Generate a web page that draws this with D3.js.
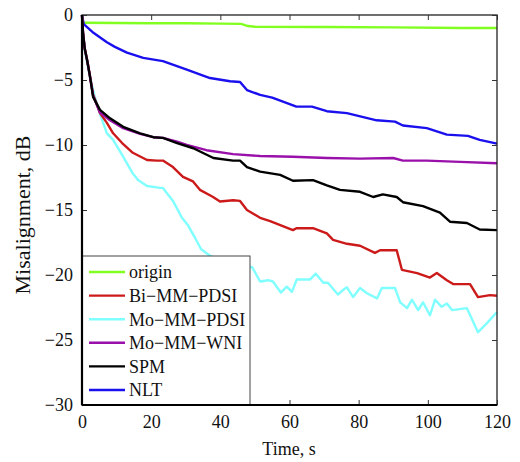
<!DOCTYPE html>
<html><head><meta charset="utf-8">
<script src="https://cdn.jsdelivr.net/npm/d3@7"></script>
<style>body{margin:0;background:#fff}svg{display:block}text{font-family:"Liberation Serif","Times New Roman",serif}</style>
</head><body><svg id="c" width="520" height="462"></svg>
<script>
const seriesNames = ["origin","Bi\u2212MM\u2212PDSI","Mo\u2212MM\u2212PDSI","Mo\u2212MM\u2212WNI","SPM","NLT"];
const seriesColors = ["#80ff20","#cc1a1a","#80ffff","#9a10aa","#000000","#1a10ee"];
const xTicks = [0,20,40,60,80,100,120];
const yTicks = [0,-5,-10,-15,-20,-25,-30];

const origin = [[0,-0.6],[10,-0.62],[20,-0.63],[30,-0.64],[40,-0.66],[46,-0.68],[48,-0.85],[50,-0.9],[70,-0.92],[90,-0.95],[110,-1.0],[120,-1.0]];
const biPDSI = [[0,0],[0.3,-1.4],[0.8,-2.6],[1.5,-3.5],[2.3,-4.7],[3.2,-6.1],[5.2,-7.55],[7.2,-8.3],[9,-9.1],[11.6,-9.85],[14.7,-10.6],[18.8,-11.15],[21.7,-11.2],[23.4,-11.2],[26.3,-11.7],[29.2,-12.45],[32.1,-12.8],[34.1,-13.45],[37.9,-14.0],[39.9,-14.35],[43.7,-14.25],[45.7,-14.3],[47.7,-15.0],[51.5,-15.6],[54.4,-15.85],[61,-16.55],[62,-16.4],[66.8,-16.4],[70.8,-16.8],[72.6,-17.3],[76.6,-17.6],[80.4,-17.75],[84.7,-18.3],[86.2,-18.1],[91,-18.1],[92.5,-19.6],[96.9,-19.85],[100.6,-20.2],[102.6,-19.85],[105.5,-20.4],[107.3,-20.7],[112.2,-20.7],[114.5,-21.7],[118,-21.55],[120,-21.6]];
const moPDSI = [[0,0],[0.3,-1.4],[0.8,-2.7],[1.5,-3.7],[2.3,-4.8],[3.8,-6.4],[5.2,-7.6],[7.2,-9.1],[9,-9.6],[11.9,-10.9],[14.7,-12.2],[16.2,-12.7],[18.8,-13.15],[22.6,-13.3],[23.4,-13.3],[26.3,-14.3],[28.9,-15.6],[30.7,-16.2],[32.6,-17.1],[34.4,-18.0],[36.4,-18.4],[39,-18.85],[43,-19.2],[46,-19.4],[49.2,-19.4],[51.5,-20.5],[53.8,-20.4],[55.2,-20.5],[57.5,-21.35],[59.2,-20.9],[60.7,-21.3],[62.1,-20.35],[65.9,-20.35],[67.6,-19.9],[69.8,-20.6],[71.1,-20.6],[74,-21.5],[75.5,-21.15],[76.6,-20.95],[78.4,-21.7],[80.4,-21.0],[82.4,-21.4],[85.3,-21.8],[86.7,-21.0],[90.5,-21.0],[92,-22.1],[94,-22.55],[95.4,-21.9],[97.2,-22.7],[98.6,-22.1],[100.6,-23.1],[102.1,-21.9],[104,-22.45],[105.5,-22.2],[107,-22.7],[111.3,-22.55],[113.1,-23.6],[114.5,-24.4],[117.1,-23.7],[120,-22.85]];
const moWNI = [[0,0],[0.3,-1.4],[0.8,-2.6],[1.5,-3.5],[2.3,-4.7],[3.2,-6.2],[5.2,-7.5],[8.1,-8.1],[11.9,-8.7],[16.8,-9.15],[20.6,-9.4],[23.4,-9.45],[27.5,-9.75],[30.3,-10.0],[36,-10.4],[43.7,-10.7],[51.5,-10.85],[61,-10.9],[70.8,-11.0],[80.4,-11.05],[90,-11.0],[92.8,-11.2],[99.7,-11.2],[109.3,-11.3],[120,-11.4]];
const spm = [[0,0],[0.3,-1.4],[0.8,-2.6],[1.5,-3.5],[2.3,-4.7],[3.2,-6.3],[5.2,-7.3],[8.1,-7.95],[11.9,-8.6],[16.8,-9.1],[20.6,-9.4],[23.4,-9.45],[27.5,-9.85],[32.2,-10.25],[38,-11.0],[43.7,-11.2],[45.7,-11.2],[47.7,-11.7],[51.5,-12.05],[57.3,-12.3],[61,-12.75],[66.8,-12.7],[70.8,-13.1],[74.6,-13.45],[80.4,-13.6],[84.2,-14.0],[87,-13.8],[91,-14.0],[92.8,-14.4],[98.6,-14.7],[103.5,-15.2],[106.4,-15.9],[111.3,-16.0],[115,-16.5],[120,-16.55]];
const nlt = [[0,0],[0.5,-0.7],[3,-1.3],[7.2,-2.1],[9.5,-2.45],[13,-2.9],[17.7,-3.3],[23.4,-3.55],[30.3,-4.2],[37,-4.85],[42.8,-5.1],[45.7,-5.15],[47.7,-5.77],[51.5,-6.15],[55,-6.35],[62,-7.05],[66.5,-7.05],[70.8,-7.4],[76.6,-7.55],[85.2,-8.1],[90.5,-8.2],[92.8,-8.5],[99.7,-8.7],[105.5,-9.2],[111.6,-9.3],[115,-9.6],[120,-9.9]];
const seriesData = [origin,biPDSI,moPDSI,moWNI,spm,nlt];
const drawOrder = [0,5,2,1,3,4];

const svg = d3.select("#c");
const L=82,R=497,T=15,B=405;
const x = d3.scaleLinear().domain([0,120]).range([L,R]);
const y = d3.scaleLinear().domain([-30,0]).range([B,T]);

const line = d3.line().x(d=>x(d[0])).y(d=>y(d[1]));
const plot = svg.append("g");
drawOrder.forEach(i=>{
  plot.append("path").datum(seriesData[i]).attr("d",line)
    .attr("fill","none").attr("stroke",seriesColors[i]).attr("stroke-width",2.4)
    .attr("stroke-linejoin","round");
});

svg.append("rect").attr("x",L).attr("y",T).attr("width",R-L).attr("height",B-T)
  .attr("fill","none").attr("stroke","#222").attr("stroke-width",1.3);

const fs = 18;
const xb = svg.append("g").attr("transform",`translate(0,${B})`)
  .call(d3.axisBottom(x).tickValues(xTicks).tickSizeInner(-5).tickSizeOuter(0).tickPadding(10).tickFormat(d3.format("d")));
const xt = svg.append("g").attr("transform",`translate(0,${T})`)
  .call(d3.axisTop(x).tickValues(xTicks).tickSizeInner(-5).tickSizeOuter(0).tickFormat(""));
const yl = svg.append("g").attr("transform",`translate(${L},0)`)
  .call(d3.axisLeft(y).tickValues(yTicks).tickSizeInner(-5).tickSizeOuter(0).tickPadding(9)
    .tickFormat(d=>d<0?"\u2212"+Math.abs(d):String(d)));
const yr = svg.append("g").attr("transform",`translate(${R},0)`)
  .call(d3.axisRight(y).tickValues(yTicks).tickSizeInner(-5).tickSizeOuter(0).tickFormat(""));
[xb,xt,yl,yr].forEach(g=>{
  g.select(".domain").remove();
  g.selectAll(".tick line").attr("stroke","#333").attr("stroke-width",1);
  g.selectAll("text").attr("font-family","Liberation Serif").attr("font-size",fs).attr("fill","#111");
});

const lg = svg.append("g");
lg.append("rect").attr("x",L).attr("y",256).attr("width",250-L).attr("height",B-256)
  .attr("fill","#fff").attr("stroke","#444").attr("stroke-width",1);
svg.append("line").attr("x1",L).attr("x2",L).attr("y1",T).attr("y2",B).attr("stroke","#000").attr("stroke-width",2.2);
svg.append("line").attr("x1",L).attr("x2",R).attr("y1",B).attr("y2",B).attr("stroke","#000").attr("stroke-width",2.2);
seriesNames.forEach((n,i)=>{
  const yy = 272 + i*23.6;
  lg.append("line").attr("x1",89).attr("x2",125).attr("y1",yy).attr("y2",yy)
    .attr("stroke",seriesColors[i]).attr("stroke-width",2.4);
  lg.append("text").attr("x",129).attr("y",yy).attr("dy","0.35em").attr("font-size",fs).attr("fill","#111").text(n);
});

svg.append("text").attr("x",289).attr("y",455).attr("text-anchor","middle").attr("font-size",fs).attr("fill","#111").text("Time, s");
svg.append("text").attr("transform","translate(30,215) rotate(-90)").attr("text-anchor","middle").attr("font-size",22).attr("fill","#111").text("Misalignment, dB");
</script></body></html>
